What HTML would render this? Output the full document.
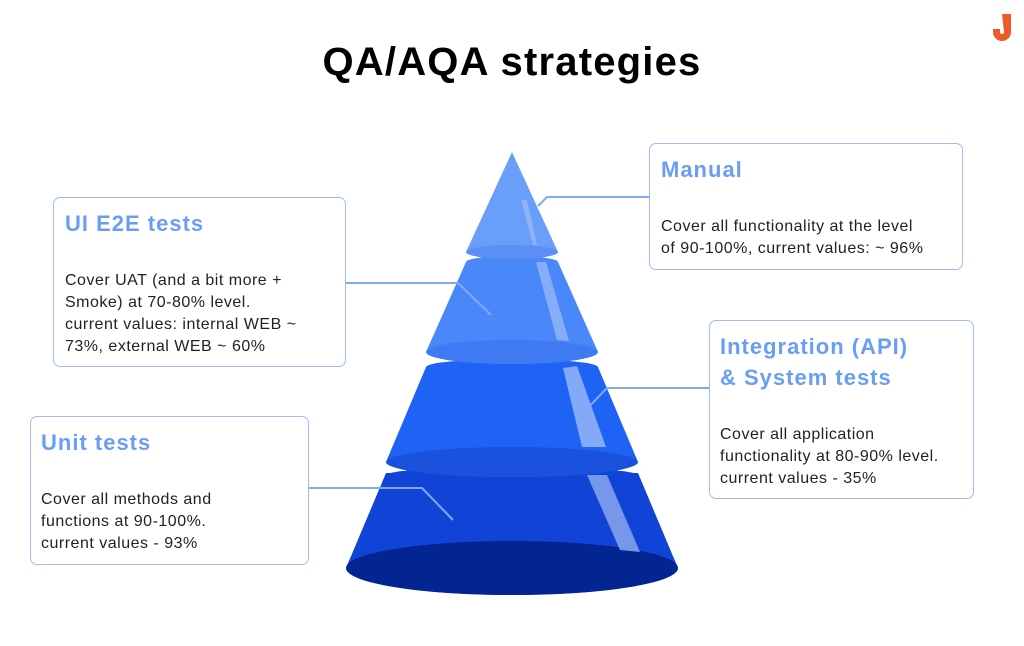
<!DOCTYPE html>
<html><head><style>
body{margin:0;width:1024px;height:646px;background:#fff;position:relative;font-family:"Liberation Sans",sans-serif;overflow:hidden}
.t{position:absolute;left:0;width:1024px;top:40px;text-align:center;font-weight:bold;font-size:40px;color:#000;letter-spacing:1.2px}
.b{position:absolute;border:1.5px solid #9dbcf5;border-radius:7px;box-sizing:border-box;background:#fff}
.b h3{margin:0;font-size:22px;font-weight:bold;color:#6a9df5;line-height:31px;letter-spacing:1px;white-space:nowrap}
.b p{margin:31px 0 0;font-size:16px;color:#222;line-height:22px;letter-spacing:0.5px;white-space:nowrap}
</style></head><body>
<div class="t">QA/AQA strategies</div>
<svg style="position:absolute;left:0;top:0" width="1024" height="646">
<!-- seg4 -->
<path d="M386,473 L346,568 A166,27 0 0 0 678,568 L638,473 Z" fill="#1144d6"/>
<ellipse cx="512" cy="568" rx="166" ry="27" fill="#032592"/>
<ellipse cx="512" cy="475" rx="126" ry="8" fill="#1144d6"/>
<polygon points="587,475 607,475 640,552 620,550" fill="#8aa6ee" opacity="0.85"/>
<!-- seg3 -->
<path d="M426,367 L386,462 A126,15 0 0 0 638,462 L598,367 A86,8 0 0 0 426,367 Z" fill="#1f63f5"/>
<ellipse cx="512" cy="462" rx="126" ry="15" fill="#1a52dd"/>
<polygon points="563,368 577,366 606,447 582,447" fill="#8fb1f7" opacity="0.9"/>
<!-- seg2 -->
<path d="M466,262 L426,352 A86,12 0 0 0 598,352 L558,262 A46,6 0 0 0 466,262 Z" fill="#4a87f8"/>
<ellipse cx="512" cy="352" rx="86" ry="12" fill="#3f7af2"/>
<polygon points="536,262 546,262 569,341 557,340" fill="#8fb1f7" opacity="0.9"/>
<!-- seg1 -->
<path d="M512,152 L466,252 A46,7 0 0 0 558,252 Z" fill="#6a9ff9"/>
<ellipse cx="512" cy="252" rx="46" ry="7" fill="#5b8ff5"/>
<polygon points="521,200 527,200 537,245 533,245" fill="#8fb1f7"/>
<g stroke="#7fa8f5" stroke-width="2" fill="none">
<polyline points="650,197 547,197 538,206"/>
<polyline points="346,283 458,283 491,315"/>
<polyline points="709,388 607,388 580,416"/>
<polyline points="309,488 422,488 453,520"/>
</g>
<!-- logo -->
<path d="M1002,14 h9 v18 a9,9 0 0 1 -18,0 v-3 h7 v3 a2,2 0 0 0 4,0 z" fill="#f05a28"/>
</svg>
<div class="b" style="left:649px;top:143px;width:314px;height:127px;padding:10px 11px"><h3>Manual</h3><p>Cover all functionality at the level<br>of 90-100%, current values: ~ 96%</p></div>
<div class="b" style="left:53px;top:197px;width:293px;height:170px;padding:10px 11px"><h3>UI E2E tests</h3><p>Cover UAT (and a bit more +<br>Smoke) at 70-80% level.<br>current values: internal WEB ~<br>73%, external WEB ~ 60%</p></div>
<div class="b" style="left:709px;top:320px;width:265px;height:179px;padding:10px 10px"><h3>Integration (API)<br>&amp; System tests</h3><p>Cover all application<br>functionality at 80-90% level.<br>current values - 35%</p></div>
<div class="b" style="left:30px;top:416px;width:279px;height:149px;padding:10px 10px"><h3>Unit tests</h3><p>Cover all methods and<br>functions at 90-100%.<br>current values - 93%</p></div>
</body></html>
